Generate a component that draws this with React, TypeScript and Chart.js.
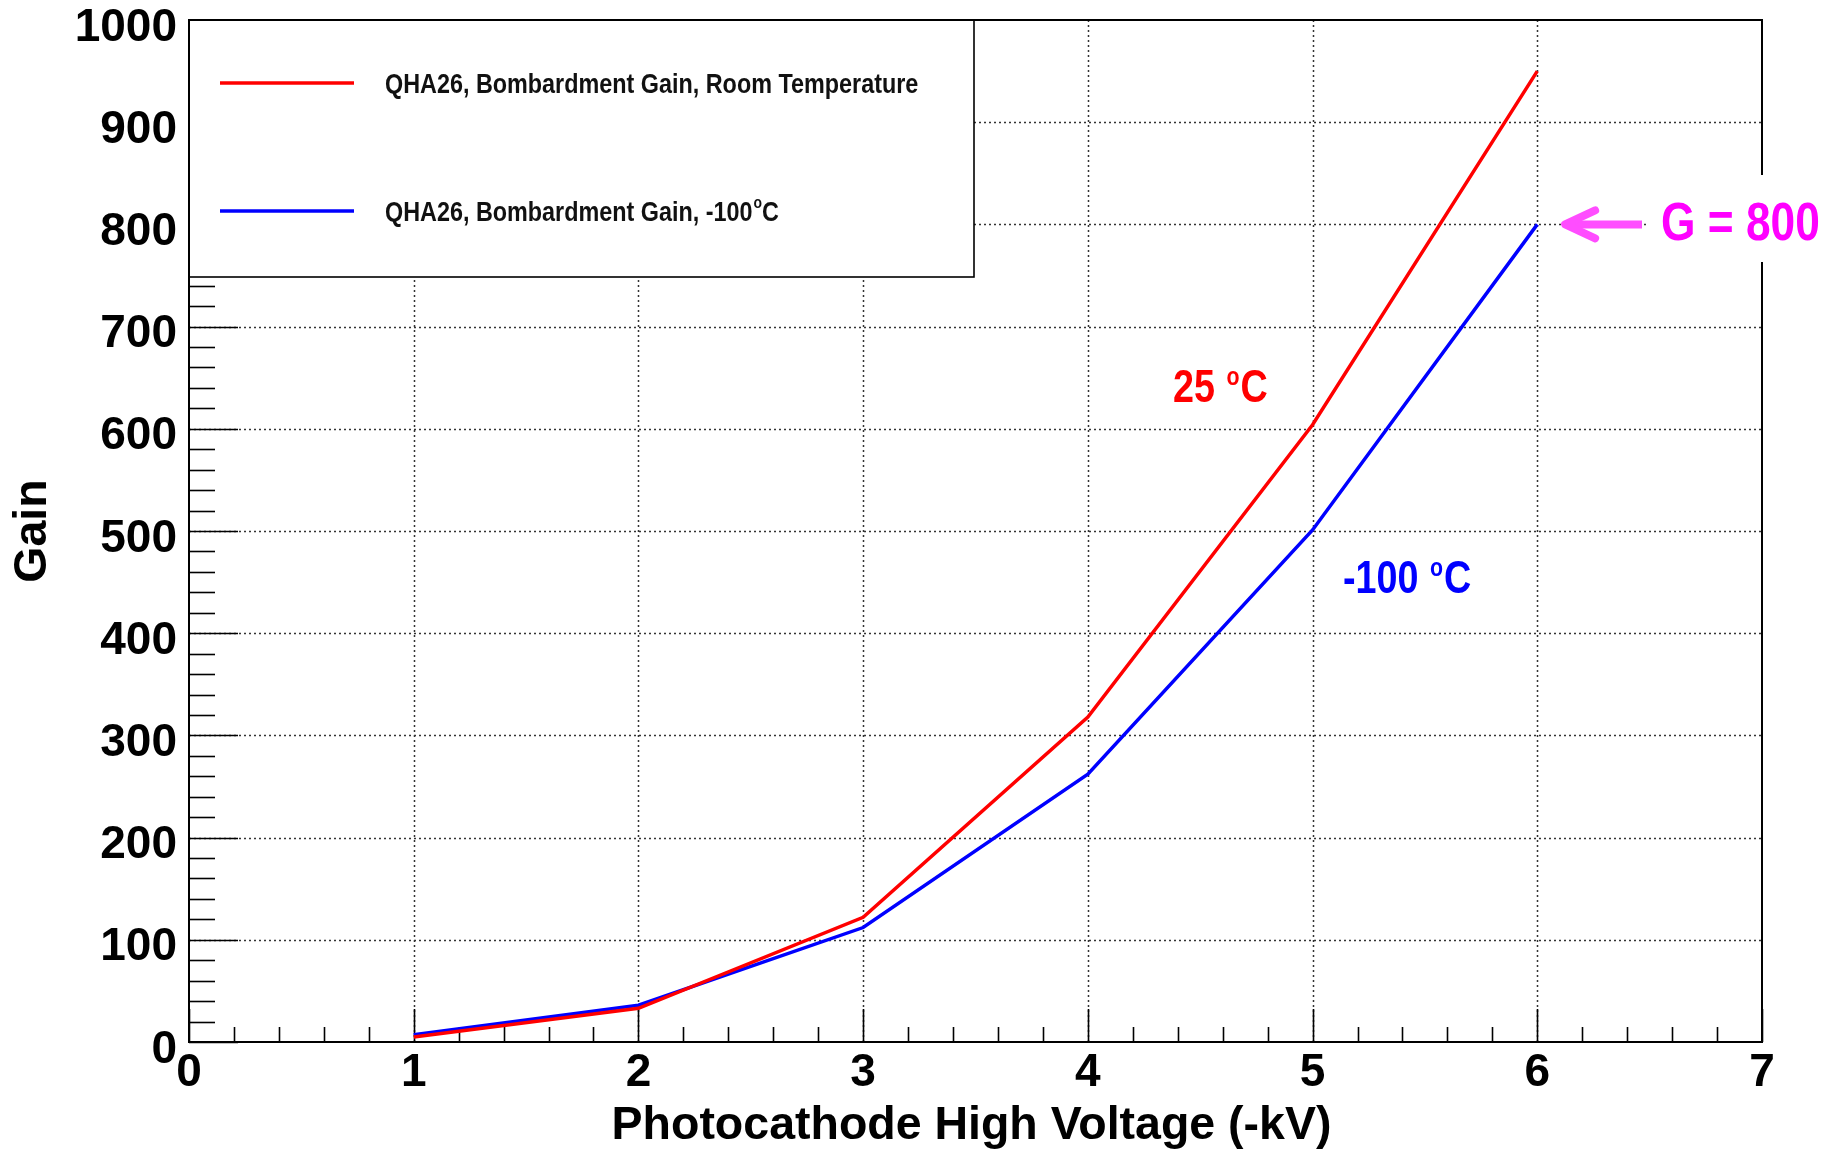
import React, { useEffect, useRef } from "react";
import { Chart, registerables } from "chart.js";

Chart.register(...registerables);

// ---- data ----
const voltages = [1, 2, 3, 4, 5, 6];
const gainRoom = [5, 33, 122, 318, 604, 950];
const gainCold = [7, 36, 112, 262, 501, 800];
const xMin = 0;
const xMax = 7;
const yMin = 0;
const yMax = 1000;
const xStep = 1;
const yStep = 100;
const xMinorStep = 0.2;
const yMinorStep = 20;
const legendRoom = "QHA26, Bombardment Gain, Room Temperature";
const legendColdMain = "QHA26, Bombardment Gain, -100";
const xTitle = "Photocathode High Voltage (-kV)";
const yTitle = "Gain";
const roomLabel = "25 ";
const coldLabel = "-100 ";
const markerLabel = "G = 800";
const markerGain = 800;
const markerArrowTip = 6.115;

const W = 1834;
const H = 1149;
const FONT = '"Liberation Sans", Arial, Helvetica, sans-serif';
const RED = "#ff0000";
const BLUE = "#0000ff";
const MAGENTA = "#ff00ff";

function narrowText(
  ctx: CanvasRenderingContext2D,
  text: string,
  x: number,
  y: number,
  size: number,
  color: string,
  sx = 0.82
): number {
  ctx.save();
  ctx.font = `bold ${size}px ${FONT}`;
  ctx.fillStyle = color;
  ctx.textAlign = "left";
  ctx.textBaseline = "alphabetic";
  const w = ctx.measureText(text).width * sx;
  ctx.translate(x, y);
  ctx.scale(sx, 1);
  ctx.fillText(text, 0, 0);
  ctx.restore();
  return w;
}

const framePlugin = {
  id: "rootFrame",
  beforeDatasetsDraw(chart: any) {
    const ctx: CanvasRenderingContext2D = chart.ctx;
    const { left, right, top, bottom } = chart.chartArea;
    const xs = chart.scales.x;
    const ys = chart.scales.y;
    ctx.save();
    // dotted grid
    ctx.strokeStyle = "#333";
    ctx.lineWidth = 1.5;
    ctx.setLineDash([2, 3]);
    for (let v = xMin + xStep; v < xMax; v += xStep) {
      const px = Math.round(xs.getPixelForValue(v)) + 0.5;
      ctx.beginPath();
      ctx.moveTo(px, top);
      ctx.lineTo(px, bottom);
      ctx.stroke();
    }
    for (let v = yMin + yStep; v < yMax; v += yStep) {
      const py = Math.round(ys.getPixelForValue(v)) + 0.5;
      ctx.beginPath();
      ctx.moveTo(left, py);
      ctx.lineTo(right, py);
      ctx.stroke();
    }
    ctx.setLineDash([]);
    ctx.strokeStyle = "#000";
    ctx.lineWidth = 1.6;
    // y ticks
    const nY = Math.round((yMax - yMin) / yMinorStep);
    for (let i = 0; i <= nY; i++) {
      const v = yMin + i * yMinorStep;
      const major = Math.abs(v / yStep - Math.round(v / yStep)) < 1e-6;
      const py = Math.round(ys.getPixelForValue(v)) + 0.5;
      ctx.beginPath();
      ctx.moveTo(left, py);
      ctx.lineTo(left + (major ? 49 : 26), py);
      ctx.stroke();
    }
    // x ticks
    const nX = Math.round((xMax - xMin) / xMinorStep);
    for (let i = 0; i <= nX; i++) {
      const v = xMin + i * xMinorStep;
      const major = Math.abs(v / xStep - Math.round(v / xStep)) < 1e-6;
      const px = Math.round(xs.getPixelForValue(v)) + 0.5;
      ctx.beginPath();
      ctx.moveTo(px, bottom);
      ctx.lineTo(px, bottom - (major ? 33 : 15));
      ctx.stroke();
    }
    ctx.restore();
  },
  afterDatasetsDraw(chart: any) {
    const ctx: CanvasRenderingContext2D = chart.ctx;
    const { left, right, top, bottom } = chart.chartArea;
    const xs = chart.scales.x;
    const ys = chart.scales.y;
    ctx.save();

    // legend box
    const lgL = left;
    const lgT = top;
    const lgR = 974;
    const lgB = 277;
    ctx.fillStyle = "#fff";
    ctx.fillRect(lgL, lgT, lgR - lgL, lgB - lgT);
    // frame
    ctx.strokeStyle = "#000";
    ctx.lineWidth = 2;
    ctx.strokeRect(left, top, right - left, bottom - top);
    ctx.lineWidth = 1.6;
    ctx.strokeRect(lgL, lgT, lgR - lgL, lgB - lgT);

    ctx.lineWidth = 3.5;
    ctx.strokeStyle = RED;
    ctx.beginPath();
    ctx.moveTo(220, 83);
    ctx.lineTo(354, 83);
    ctx.stroke();
    ctx.strokeStyle = BLUE;
    ctx.beginPath();
    ctx.moveTo(220, 211);
    ctx.lineTo(354, 211);
    ctx.stroke();
    narrowText(ctx, legendRoom, 385, 93, 28.5, "#111");
    let w = narrowText(ctx, legendColdMain, 385, 221, 28.5, "#111");
    let w2 = narrowText(ctx, "o", 385 + w + 1, 208, 17, "#111");
    narrowText(ctx, "C", 385 + w + w2 + 1, 221, 28.5, "#111");

    // curve annotations
    w = narrowText(ctx, roomLabel, 1173, 402, 46, RED);
    w2 = narrowText(ctx, "o", 1173 + w + 1, 385, 26, RED);
    narrowText(ctx, "C", 1173 + w + w2 + 2, 402, 46, RED);

    w = narrowText(ctx, coldLabel, 1343, 593, 46, BLUE);
    w2 = narrowText(ctx, "o", 1343 + w + 1, 576, 26, BLUE);
    narrowText(ctx, "C", 1343 + w + w2 + 2, 593, 46, BLUE);

    // G = 800 marker
    ctx.fillStyle = "#fff";
    ctx.fillRect(1646, 175, W - 1646, 87);
    const tipX = xs.getPixelForValue(markerArrowTip);
    const tipY = ys.getPixelForValue(markerGain);
    ctx.strokeStyle = "#ff4dff";
    ctx.lineWidth = 8;
    ctx.lineCap = "butt";
    ctx.beginPath();
    ctx.moveTo(tipX + 4, tipY);
    ctx.lineTo(1642, tipY);
    ctx.stroke();
    ctx.lineCap = "round";
    ctx.lineJoin = "round";
    ctx.beginPath();
    ctx.moveTo(tipX + 32, tipY - 14);
    ctx.lineTo(tipX + 2, tipY);
    ctx.lineTo(tipX + 32, tipY + 14);
    ctx.stroke();
    narrowText(ctx, markerLabel, 1661, 240, 54, MAGENTA);

    // axis titles
    ctx.fillStyle = "#000";
    ctx.font = `bold 46.5px ${FONT}`;
    ctx.textAlign = "center";
    ctx.textBaseline = "alphabetic";
    ctx.fillText(xTitle, (left + right) / 2 - 4, 1139);
    ctx.save();
    ctx.translate(46, (top + bottom) / 2);
    ctx.rotate(-Math.PI / 2);
    ctx.fillText(yTitle, 0, 0);
    ctx.restore();

    ctx.restore();
  },
};

export default function App() {
  const ref = useRef<HTMLCanvasElement | null>(null);
  useEffect(() => {
    if (!ref.current) return;
    const chart = new Chart(ref.current, {
      type: "line",
      data: {
        datasets: [
          {
            label: legendRoom,
            data: voltages.map((v, i) => ({ x: v, y: gainRoom[i] })),
            borderColor: RED,
            backgroundColor: RED,
            borderWidth: 3.5,
            pointRadius: 0,
            tension: 0,
            fill: false,
          },
          {
            label: legendColdMain + "°C",
            data: voltages.map((v, i) => ({ x: v, y: gainCold[i] })),
            borderColor: BLUE,
            backgroundColor: BLUE,
            borderWidth: 3.5,
            pointRadius: 0,
            tension: 0,
            fill: false,
          },
        ],
      },
      options: {
        animation: false,
        responsive: false,
        devicePixelRatio: 1,
        layout: { padding: { top: 20, right: 72, left: 0, bottom: 0 } },
        plugins: { legend: { display: false }, tooltip: { enabled: false } },
        scales: {
          x: {
            type: "linear",
            min: xMin,
            max: xMax,
            ticks: {
              stepSize: xStep,
              autoSkip: false,
              maxRotation: 0,
              padding: 4,
              color: "#000",
              font: { family: FONT, size: 46, weight: "bold" },
              callback: (v: any) => String(v),
            },
            grid: { display: false, drawTicks: false },
            border: { display: false },
            afterFit: (s: any) => {
              s.height = 107;
              s.paddingLeft = 0;
              s.paddingRight = 0;
              s.paddingTop = 0;
              s.paddingBottom = 0;
            },
          },
          y: {
            type: "linear",
            min: yMin,
            max: yMax,
            ticks: {
              stepSize: yStep,
              autoSkip: false,
              padding: 12,
              labelOffset: 8,
              color: "#000",
              font: { family: FONT, size: 46, weight: "bold" },
              callback: (v: any) => String(v),
            },
            grid: { display: false, drawTicks: false },
            border: { display: false },
            afterFit: (s: any) => {
              s.width = 189;
              s.paddingLeft = 0;
              s.paddingRight = 0;
              s.paddingTop = 0;
              s.paddingBottom = 0;
            },
          },
        },
      },
      plugins: [framePlugin],
    } as any);
    return () => chart.destroy();
  }, []);
  return (
    <div style={{ position: "fixed", left: 0, top: 0, width: W, height: H, background: "#fff" }}>
      <canvas ref={ref} width={W} height={H} style={{ display: "block", width: W, height: H }} />
    </div>
  );
}
